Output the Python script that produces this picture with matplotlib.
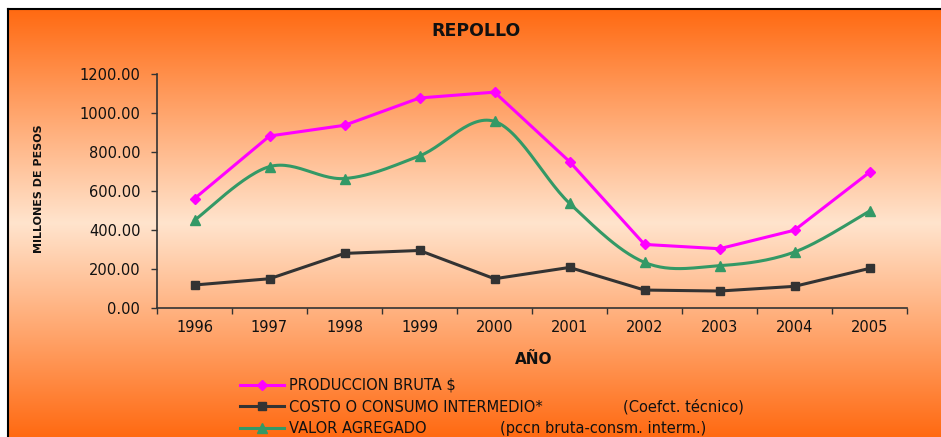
import numpy as np
import matplotlib
matplotlib.use('Agg')
import matplotlib.pyplot as plt
from matplotlib.lines import Line2D

plt.rcParams['font.family'] = ['DejaVu Sans']

# ---------------- data ----------------
years = ['1996', '1997', '1998', '1999', '2000', '2001', '2002', '2003', '2004', '2005']
produccion_bruta = [561, 882, 937, 1077, 1107, 751, 326, 304, 399, 696]
consumo_intermedio = [118, 150, 280, 295, 150, 208, 92, 87, 111, 203]
valor_agregado = [450, 725, 664, 780, 957, 537, 234, 217, 287, 497]
y_ticks = [0, 200, 400, 600, 800, 1000, 1200]

title = 'REPOLLO'
x_label = 'AÑO'
y_label = 'MILLONES DE PESOS'
legend_labels = ['PRODUCCION BRUTA $', 'COSTO O CONSUMO INTERMEDIO*', 'VALOR AGREGADO']
legend_notes = ['', '(Coefct. técnico)', '(pccn bruta-consm. interm.)']

PINK = '#FF00FF'
DARK = '#333333'
GREEN = '#339966'

W, H = 941, 437
fig = plt.figure(figsize=(W / 100, H / 100), dpi=100)
fig.patch.set_facecolor('white')


def fx(x):
    return x / W


def fy(y):
    return 1 - y / H


# ---------------- background gradient ----------------
x0, y0 = 8, 9
bg = fig.add_axes([fx(x0), 0, 1 - fx(x0) + 0.01, fy(y0)], zorder=0)
n = 256
t = np.linspace(0, 1, n)
tri = 1 - np.abs(2 * t - 1)
edge = np.array([255, 106, 18]) / 255
mid = np.array([255, 228, 205]) / 255
grad = edge[None, :] + (mid - edge)[None, :] * tri[:, None]
bg.imshow(grad[:, None, :], aspect='auto', extent=[0, 1, 0, 1], interpolation='bilinear')
bg.axis('off')
fig.add_artist(Line2D([fx(x0), 1.01], [fy(y0), fy(y0)], color='black', lw=1.5, zorder=5))
fig.add_artist(Line2D([fx(x0), fx(x0)], [-0.01, fy(y0)], color='black', lw=1.5, zorder=5))


# ---------------- smooth curve (Excel style bezier) ----------------
def excel_smooth(xs, ys, npts=30):
    P = np.column_stack([np.asarray(xs, float), np.asarray(ys, float)])
    out = []
    for i in range(len(P) - 1):
        p0 = P[i - 1] if i > 0 else P[i]
        p1 = P[i]
        p2 = P[i + 1]
        p3 = P[i + 2] if i + 2 < len(P) else P[i + 1]
        c1 = p1 + (p2 - p0) / 6
        c2 = p2 - (p3 - p1) / 6
        tt = np.linspace(0, 1, npts)[:, None]
        seg = (1 - tt) ** 3 * p1 + 3 * (1 - tt) ** 2 * tt * c1 + 3 * (1 - tt) * tt ** 2 * c2 + tt ** 3 * p2
        out.append(seg if i == 0 else seg[1:])
    return np.vstack(out)


# ---------------- main axes ----------------
ax = fig.add_axes([fx(157), fy(308), 750 / W, 234 / H], zorder=2)
ax.patch.set_alpha(0)
xs = np.arange(len(years))

ax.plot(xs, produccion_bruta, color=PINK, lw=2.2, marker='D', ms=5, zorder=4)
ax.plot(xs, consumo_intermedio, color=DARK, lw=2.2, marker='s', ms=5.5, zorder=4)
curve = excel_smooth(xs, valor_agregado)
ax.plot(curve[:, 0], curve[:, 1], color=GREEN, lw=2.2, zorder=3)
ax.plot(xs, valor_agregado, ls='none', color=GREEN, marker='^', ms=7, zorder=3)

ax.set_xlim(-0.5, len(years) - 0.5)
ax.set_ylim(0, 1200)
ax.set_xticks(np.arange(-0.5, len(years), 1))
ax.set_xticklabels([])
ax.set_xticks(xs, minor=True)
ax.set_xticklabels(years, minor=True)
ax.set_yticks(y_ticks)
ax.set_yticklabels([f'{v:.2f}' for v in y_ticks])
ax.tick_params(axis='x', which='major', direction='out', length=4, width=1, color=DARK)
ax.tick_params(axis='x', which='minor', length=0, pad=9, labelsize=10.5, labelcolor='#111111')
ax.tick_params(axis='y', direction='out', length=4, width=1, color=DARK, pad=8,
               labelsize=10.5, labelcolor='#111111')
for s in ['top', 'right']:
    ax.spines[s].set_visible(False)
for s in ['left', 'bottom']:
    ax.spines[s].set_color(DARK)
    ax.spines[s].set_linewidth(1.2)

# ---------------- texts ----------------
fig.text(fx(476), fy(31), title, ha='center', va='center', fontsize=12.5, fontweight='bold', color='#111111')
fig.text(fx(534), fy(359), x_label, ha='center', va='center', fontsize=11, fontweight='bold', color='#111111')
fig.text(fx(39), fy(189), y_label, ha='center', va='center', rotation=90, fontsize=8,
         fontweight='bold', color='#111111')

# ---------------- legend ----------------
handles = [
    Line2D([], [], color=PINK, lw=2.2, marker='D', ms=5),
    Line2D([], [], color=DARK, lw=2.2, marker='s', ms=5.5),
    Line2D([], [], color=GREEN, lw=2.2, marker='^', ms=6.5),
]
fig.legend(handles, legend_labels, loc='upper left', bbox_to_anchor=(fx(240), fy(378)),
           bbox_transform=fig.transFigure, frameon=False, borderpad=0, borderaxespad=0,
           handlelength=3.0, handletextpad=0.35, labelspacing=0.45, numpoints=1,
           prop={'size': 10.5}, labelcolor='#111111')
fig.text(fx(623), fy(406.5), legend_notes[1], ha='left', va='center', fontsize=10.5, color='#111111')
fig.text(fx(500), fy(428), legend_notes[2], ha='left', va='center', fontsize=10.5, color='#111111')

fig.savefig('out.png', dpi=100, facecolor=fig.get_facecolor())
